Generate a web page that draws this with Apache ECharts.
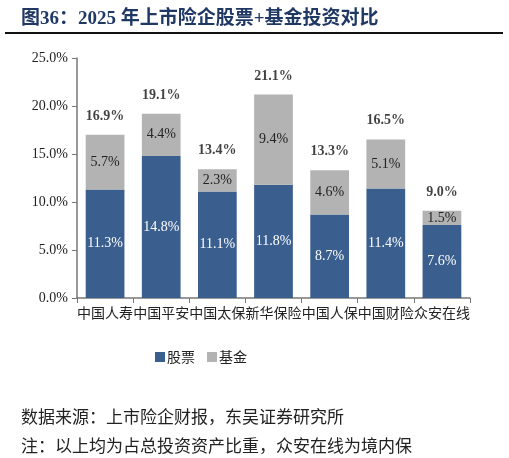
<!DOCTYPE html>
<html>
<head>
<meta charset="utf-8">
<script src="https://cdn.jsdelivr.net/npm/echarts@6/dist/echarts.min.js"></script>
<style>
  html, body { margin: 0; padding: 0; background: #fff; }
  #chart { width: 509px; height: 458px; }
</style>
</head>
<body>
<div id="chart"></div>
<script>
// 2025 年上市险企股票+基金投资对比
var companies = ['中国人寿', '中国平安', '中国太保', '新华保险', '中国人保', '中国财险', '众安在线'];
var stockPct = [11.3, 14.8, 11.1, 11.8, 8.7, 11.4, 7.6];
var fundPct = [5.7, 4.4, 2.3, 9.4, 4.6, 5.1, 1.5];
var totalPct = [16.9, 19.1, 13.4, 21.1, 13.3, 16.5, 9.0];

var serif = '"Liberation Serif", "Times New Roman", "Noto Sans CJK SC", serif';
var cjk = '"Noto Sans CJK SC", sans-serif';
var blue = '#3a5f8f';
var grey = '#b3b3b3';

var chart = echarts.init(document.getElementById('chart'), null, { renderer: 'canvas' });

chart.setOption({
  animation: false,
  title: [
    {
      text: '图36：2025 年上市险企股票+基金投资对比',
      left: 16, top: 5,
      textStyle: { fontFamily: serif, fontSize: 19, fontWeight: 'bold', color: '#1f3864' }
    },
    {
      text: '数据来源：上市险企财报，东吴证券研究所',
      left: 16, top: 403,
      textStyle: { fontFamily: cjk, fontSize: 17, fontWeight: 'normal', color: '#222' }
    },
    {
      text: '注：以上均为占总投资资产比重，众安在线为境内保',
      left: 16, top: 432,
      textStyle: { fontFamily: cjk, fontSize: 17, fontWeight: 'normal', color: '#222' }
    }
  ],
  graphic: [{
    type: 'line',
    shape: { x1: 5, y1: 33, x2: 503, y2: 33 },
    style: { stroke: '#111', lineWidth: 2 }
  }],
  legend: {
    data: ['股票', '基金'],
    left: 150, top: 345,
    itemWidth: 10, itemHeight: 10, itemGap: 12,
    icon: 'rect',
    textStyle: { fontFamily: cjk, fontSize: 14, color: '#222', padding: [0, 0, 0, -3] }
  },
  grid: { left: 77, right: 39, top: 58, bottom: 160 },
  xAxis: {
    type: 'category',
    data: companies,
    axisLine: { lineStyle: { color: '#777', width: 1.5 } },
    axisTick: { show: true, length: 5, lineStyle: { color: '#777' } },
    axisLabel: { fontFamily: cjk, fontSize: 14, color: '#222', margin: 8, interval: 0 }
  },
  yAxis: {
    type: 'value',
    min: 0, max: 25, interval: 5,
    splitLine: { show: false },
    axisLine: { show: true, lineStyle: { color: '#777', width: 1.5 } },
    axisTick: { show: true, length: 5, inside: false, lineStyle: { color: '#777' } },
    axisLabel: {
      fontFamily: serif, fontSize: 14, color: '#222', margin: 9,
      formatter: function (v) { return v.toFixed(1) + '%'; }
    }
  },
  series: [
    {
      name: '股票', type: 'bar', stack: 'inv', barWidth: '69%',
      data: stockPct,
      itemStyle: { color: blue },
      label: {
        show: true, position: 'inside', color: '#fff',
        fontFamily: serif, fontSize: 14,
        formatter: function (p) { return p.value.toFixed(1) + '%'; }
      }
    },
    {
      name: '基金', type: 'bar', stack: 'inv',
      data: fundPct,
      itemStyle: { color: grey },
      label: {
        show: true, position: 'inside', color: '#222',
        fontFamily: serif, fontSize: 14,
        formatter: function (p) { return p.value.toFixed(1) + '%'; }
      }
    },
    {
      name: '合计', type: 'scatter', symbolSize: 0,
      data: totalPct,
      silent: true,
      label: {
        show: true, position: 'top', distance: 12, color: '#111',
        fontFamily: serif, fontSize: 14, fontWeight: 'bold',
        formatter: function (p) { return p.value.toFixed(1) + '%'; }
      }
    }
  ]
});
</script>
</body>
</html>
